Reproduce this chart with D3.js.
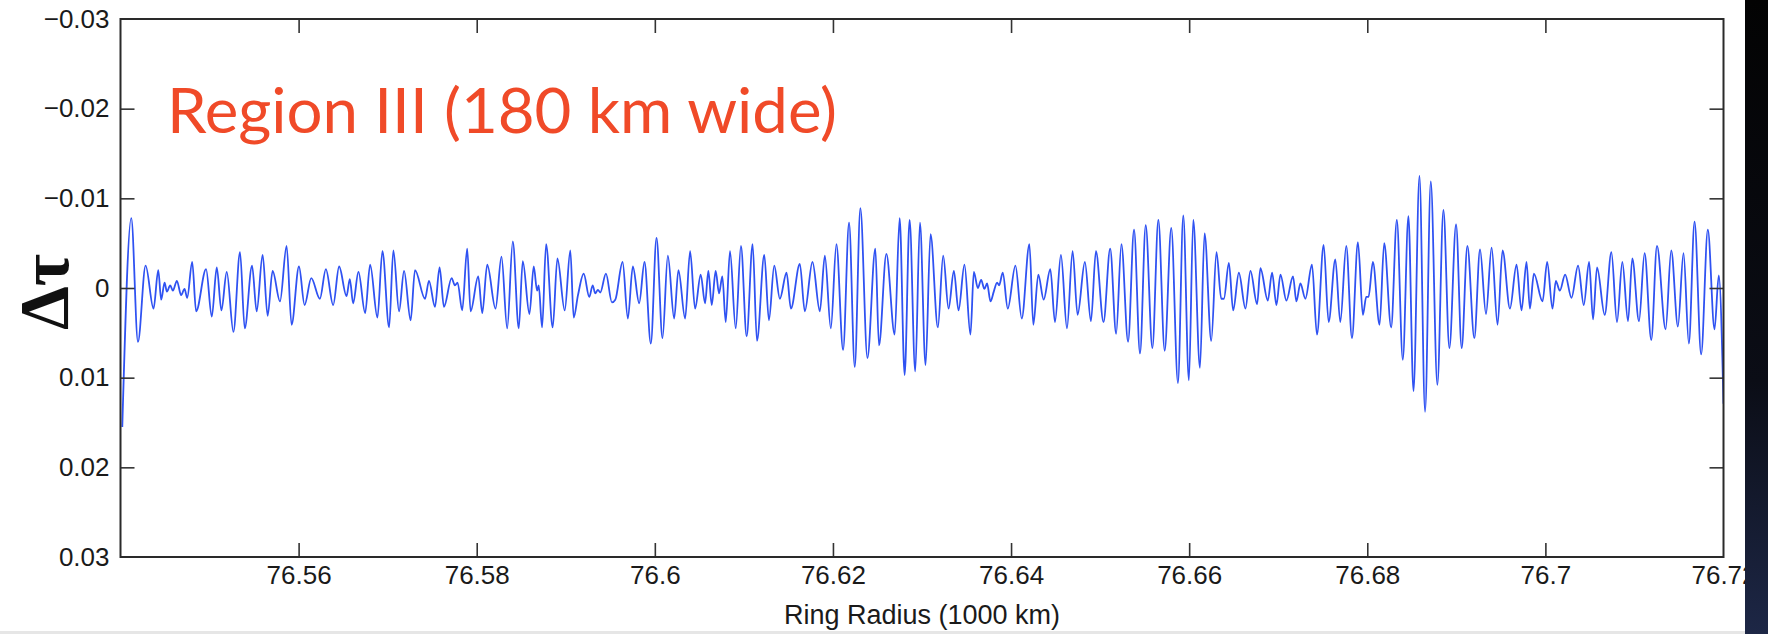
<!DOCTYPE html>
<html>
<head>
<meta charset="utf-8">
<script src="https://cdn.jsdelivr.net/npm/d3@7/dist/d3.min.js"></script>
<style>
  html, body { margin: 0; padding: 0; background: #ffffff; }
  svg { display: block; }
  .tick text { font-family: "Liberation Sans", Arial, sans-serif; font-size: 26px; fill: #1a1a1a; }
  .tick line { stroke: #333333; stroke-width: 1.6; }
</style>
</head>
<body>
<svg id="chart" width="1768" height="634"></svg>
<script>
// Optical depth residual across Region III, sampled at its crests and troughs
// [ring radius (1000 km), delta tau]
const tauProfile = [
  [76.5402, 0.0155], [76.54121, -0.0078], [76.54196, 0.0060], [76.54282, -0.0025],
  [76.54371, 0.0023], [76.54424, -0.0020], [76.54457, 0.0013], [76.54495, -0.0006],
  [76.54521, 0.0004], [76.54558, -0.0003], [76.54588, 0.0003], [76.54633, -0.0008],
  [76.54681, 0.0008], [76.54719, 0.0001], [76.54749, 0.0011], [76.54805, -0.0029],
  [76.54849, 0.0026], [76.54961, -0.0021], [76.55025, 0.0032], [76.55081, -0.0023],
  [76.55133, 0.0025], [76.55193, -0.0018], [76.55268, 0.0049], [76.55342, -0.0040],
  [76.55395, 0.0045], [76.55477, -0.0025], [76.55529, 0.0026], [76.55596, -0.0037],
  [76.55652, 0.0031], [76.55708, -0.0019], [76.55791, 0.0015], [76.55865, -0.0047],
  [76.55921, 0.0041], [76.56004, -0.0024], [76.56067, 0.0019], [76.56142, -0.0011],
  [76.56239, 0.0012], [76.56306, -0.0021], [76.56388, 0.0019], [76.56455, -0.0024],
  [76.56538, 0.0009], [76.56575, -0.0010], [76.56612, 0.0017], [76.56672, -0.0018],
  [76.56747, 0.0028], [76.56803, -0.0026], [76.56885, 0.0033], [76.56941, -0.0041],
  [76.57016, 0.0044], [76.57064, -0.0042], [76.57128, 0.0026], [76.57184, -0.0019],
  [76.57258, 0.0036], [76.57307, -0.0020], [76.57419, 0.0012], [76.57464, -0.0008],
  [76.57531, 0.0021], [76.57583, -0.0023], [76.57632, 0.0021], [76.57718, -0.0011],
  [76.57755, -0.0003], [76.57785, -0.0006], [76.57837, 0.0025], [76.57893, -0.0044],
  [76.57931, 0.0026], [76.58017, -0.0013], [76.58062, 0.0028], [76.58118, -0.0026],
  [76.58211, 0.0023], [76.58278, -0.0035], [76.58342, 0.0045], [76.58405, -0.0052],
  [76.58472, 0.0045], [76.58517, -0.0030], [76.58592, 0.0029], [76.58640, -0.0024],
  [76.58678, 0.0003], [76.58696, -0.0003], [76.58734, 0.0044], [76.58779, -0.0049],
  [76.58853, 0.0044], [76.58906, -0.0033], [76.58988, 0.0025], [76.59051, -0.0042],
  [76.59089, 0.0033], [76.59137, 0.0008], [76.59201, -0.0016], [76.59264, 0.0010],
  [76.59302, -0.0003], [76.59331, 0.0006], [76.59361, 0.0002], [76.59387, 0.0005],
  [76.59451, -0.0016], [76.59518, 0.0016], [76.59556, 0.0013], [76.59638, -0.0029],
  [76.59697, 0.0034], [76.59753, -0.0024], [76.59824, 0.0017], [76.59884, -0.0029],
  [76.59955, 0.0062], [76.60019, -0.0056], [76.60086, 0.0056], [76.60146, -0.0036],
  [76.60217, 0.0034], [76.60265, -0.0020], [76.60340, 0.0034], [76.60396, -0.0041],
  [76.60452, 0.0023], [76.60515, -0.0015], [76.60564, 0.0017], [76.60601, -0.0019],
  [76.60639, 0.0019], [76.60683, -0.0019], [76.60721, 0.0006], [76.60758, -0.0013],
  [76.60796, 0.0038], [76.60844, -0.0041], [76.60908, 0.0045], [76.60967, -0.0047],
  [76.61031, 0.0054], [76.61098, -0.0049], [76.61147, 0.0059], [76.61229, -0.0037],
  [76.61281, 0.0036], [76.61341, -0.0025], [76.61404, 0.0012], [76.61479, -0.0017],
  [76.61528, 0.0023], [76.61628, -0.0027], [76.61684, 0.0026], [76.61770, -0.0029],
  [76.61853, 0.0026], [76.61909, -0.0036], [76.61976, 0.0045], [76.62039, -0.0049],
  [76.62114, 0.0069], [76.62181, -0.0073], [76.62245, 0.0088], [76.62308, -0.0089],
  [76.62387, 0.0078], [76.62476, -0.0044], [76.62517, 0.0064], [76.62600, -0.0038],
  [76.62693, 0.0052], [76.62749, -0.0078], [76.62805, 0.0097], [76.62861, -0.0076],
  [76.62924, 0.0093], [76.62977, -0.0073], [76.63040, 0.0086], [76.63096, -0.0060],
  [76.63178, 0.0044], [76.63238, -0.0036], [76.63298, 0.0023], [76.63358, -0.0019],
  [76.63410, 0.0025], [76.63477, -0.0026], [76.63544, 0.0052], [76.63582, -0.0018],
  [76.63627, 0.0000], [76.63664, -0.0009], [76.63701, 0.0001], [76.63731, -0.0005],
  [76.63769, 0.0015], [76.63806, 0.0004], [76.63843, -0.0006], [76.63866, -0.0003],
  [76.63907, -0.0017], [76.63963, 0.0023], [76.64049, -0.0025], [76.64120, 0.0034],
  [76.64206, -0.0049], [76.64250, 0.0041], [76.64306, -0.0015], [76.64366, 0.0013],
  [76.64441, -0.0021], [76.64493, 0.0038], [76.64560, -0.0037], [76.64628, 0.0045],
  [76.64691, -0.0041], [76.64747, 0.0030], [76.64829, -0.0029], [76.64897, 0.0037],
  [76.64953, -0.0041], [76.65038, 0.0038], [76.65113, -0.0044], [76.65180, 0.0051],
  [76.65239, -0.0049], [76.65314, 0.0060], [76.65381, -0.0065], [76.65448, 0.0073],
  [76.65512, -0.0070], [76.65587, 0.0067], [76.65654, -0.0076], [76.65725, 0.0070],
  [76.65799, -0.0067], [76.65874, 0.0106], [76.65934, -0.0081], [76.65997, 0.0103],
  [76.66046, -0.0076], [76.66121, 0.0089], [76.66173, -0.0061], [76.66248, 0.0059],
  [76.66307, -0.0040], [76.66360, 0.0012], [76.66390, 0.0012], [76.66446, -0.0028],
  [76.66494, 0.0025], [76.66558, -0.0017], [76.66632, 0.0023], [76.66688, -0.0019],
  [76.66763, 0.0018], [76.66800, -0.0022], [76.66883, 0.0014], [76.66931, -0.0017],
  [76.66980, 0.0019], [76.67025, -0.0015], [76.67092, 0.0014], [76.67166, -0.0013],
  [76.67204, 0.0015], [76.67249, -0.0005], [76.67305, 0.0012], [76.67379, -0.0026],
  [76.67435, 0.0052], [76.67510, -0.0048], [76.67566, 0.0038], [76.67641, -0.0032],
  [76.67697, 0.0038], [76.67764, -0.0047], [76.67828, 0.0056], [76.67895, -0.0051],
  [76.67951, 0.0030], [76.67988, 0.0010], [76.68014, 0.0010], [76.68063, -0.0029],
  [76.68138, 0.0041], [76.68190, -0.0050], [76.68268, 0.0044], [76.68332, -0.0076],
  [76.68399, 0.0080], [76.68462, -0.0080], [76.68519, 0.0115], [76.68586, -0.0125],
  [76.68649, 0.0138], [76.68713, -0.0119], [76.68787, 0.0108], [76.68855, -0.0087],
  [76.68922, 0.0067], [76.68997, -0.0071], [76.69060, 0.0067], [76.69124, -0.0047],
  [76.69202, 0.0056], [76.69266, -0.0043], [76.69333, 0.0029], [76.69396, -0.0045],
  [76.69463, 0.0041], [76.69519, -0.0042], [76.69602, 0.0023], [76.69676, -0.0026],
  [76.69732, 0.0025], [76.69788, -0.0029], [76.69826, 0.0023], [76.69871, -0.0016],
  [76.69968, 0.0015], [76.70020, -0.0029], [76.70080, 0.0023], [76.70117, -0.0008],
  [76.70162, 0.0003], [76.70222, -0.0015], [76.70293, 0.0011], [76.70367, -0.0025],
  [76.70431, 0.0019], [76.70491, -0.0029], [76.70535, 0.0035], [76.70580, -0.0023],
  [76.70666, 0.0030], [76.70741, -0.0040], [76.70804, 0.0038], [76.70864, -0.0029],
  [76.70928, 0.0037], [76.70976, -0.0033], [76.71051, 0.0037], [76.71114, -0.0039],
  [76.71189, 0.0058], [76.71253, -0.0047], [76.71350, 0.0046], [76.71413, -0.0042],
  [76.71488, 0.0043], [76.71551, -0.0039], [76.71611, 0.0062], [76.71675, -0.0074],
  [76.71749, 0.0074], [76.71824, -0.0065], [76.71899, 0.0046], [76.71947, -0.0014],
  [76.72, 0.0129]
];

const xDomain = [76.54, 76.72];
const yDomain = [-0.03, 0.03];
const xTicks = [76.56, 76.58, 76.6, 76.62, 76.64, 76.66, 76.68, 76.7, 76.72];
const xTickLabels = ["76.56", "76.58", "76.6", "76.62", "76.64", "76.66", "76.68", "76.7", "76.72"];
const yTicks = [-0.03, -0.02, -0.01, 0, 0.01, 0.02, 0.03];
const yTickLabels = ["\u22120.03", "\u22120.02", "\u22120.01", "0", "0.01", "0.02", "0.03"];

const titleText = "Region III (180 km wide)";
const xAxisTitle = "Ring Radius (1000 km)";
const yAxisTitle = "\u0394\u03c4";

const svg = d3.select("#chart");
const W = 1768, H = 634;
const box = { left: 120.5, right: 1723.5, top: 19, bottom: 557 };

svg.append("rect").attr("width", W).attr("height", H).attr("fill", "#ffffff");

const x = d3.scaleLinear().domain(xDomain).range([box.left, box.right]);
// Delta tau grows downward: negative values sit at the top
const y = d3.scaleLinear().domain(yDomain).range([box.top, box.bottom]);

const tick = 14;

// Profile trace, clipped to the axes box
svg.append("clipPath").attr("id", "plotClip")
  .append("rect")
  .attr("x", box.left).attr("y", box.top)
  .attr("width", box.right - box.left).attr("height", box.bottom - box.top);

const line = d3.line()
  .x(d => x(d[0]))
  .y(d => y(d[1]))
  .curve(d3.curveMonotoneX);

svg.append("path")
  .datum(tauProfile)
  .attr("clip-path", "url(#plotClip)")
  .attr("d", line)
  .attr("fill", "none")
  .attr("stroke", "#2f52f2")
  .attr("stroke-width", 1.8)
  .attr("stroke-linejoin", "round");

// Axes with inward ticks on all four sides
const gLeft = svg.append("g")
  .attr("transform", `translate(${box.left},0)`)
  .call(d3.axisLeft(y).tickValues(yTicks).tickSize(-tick).tickSizeOuter(0)
    .tickPadding(11).tickFormat((d, i) => yTickLabels[i]));
const gRight = svg.append("g")
  .attr("transform", `translate(${box.right},0)`)
  .call(d3.axisRight(y).tickValues(yTicks.slice(1, -1)).tickSize(-tick).tickSizeOuter(0)
    .tickFormat(() => ""));
const gBottom = svg.append("g")
  .attr("transform", `translate(0,${box.bottom})`)
  .call(d3.axisBottom(x).tickValues(xTicks).tickSize(-tick).tickSizeOuter(0)
    .tickPadding(9).tickFormat((d, i) => xTickLabels[i]));
const gTop = svg.append("g")
  .attr("transform", `translate(0,${box.top})`)
  .call(d3.axisTop(x).tickValues(xTicks.slice(0, -1)).tickSize(-tick).tickSizeOuter(0)
    .tickFormat(() => ""));

[gLeft, gRight, gBottom, gTop].forEach(g => g.select(".domain").remove());
gLeft.selectAll(".tick").filter(d => d === yDomain[0] || d === yDomain[1]).select("line").remove();
gBottom.selectAll(".tick").filter(d => d === xDomain[1]).select("line").remove();

svg.append("rect")
  .attr("x", box.left).attr("y", box.top)
  .attr("width", box.right - box.left).attr("height", box.bottom - box.top)
  .attr("fill", "none").attr("stroke", "#2a2a2a").attr("stroke-width", 2);

// Axis titles
svg.append("text")
  .attr("x", (box.left + box.right) / 2).attr("y", 624)
  .attr("text-anchor", "middle")
  .attr("font-family", "Liberation Sans, Arial, sans-serif")
  .attr("font-size", 27).attr("fill", "#1a1a1a")
  .text(xAxisTitle);

svg.append("text")
  .attr("transform", "translate(68,292) rotate(-90)")
  .attr("text-anchor", "middle")
  .attr("font-family", "Liberation Serif, Times New Roman, serif")
  .attr("font-weight", "bold")
  .attr("font-size", 70).attr("fill", "#111111")
  .text(yAxisTitle);

// Region caption
svg.append("text")
  .attr("x", 167).attr("y", 133)
  .attr("font-family", "Lato, Open Sans, sans-serif")
  .attr("font-size", 61).attr("fill", "#f04a28")
  .attr("textLength", 670).attr("lengthAdjust", "spacingAndGlyphs")
  .text(titleText);

// Dark slide margin on the right and thin light strip at the bottom
const defs = svg.append("defs");
const grad = defs.append("linearGradient").attr("id", "edgeShade")
  .attr("x1", 0).attr("y1", 0).attr("x2", 0).attr("y2", 1);
grad.append("stop").attr("offset", "0%").attr("stop-color", "#030303");
grad.append("stop").attr("offset", "60%").attr("stop-color", "#0b0d16");
grad.append("stop").attr("offset", "100%").attr("stop-color", "#1d2746");
svg.append("rect").attr("x", 1745).attr("y", 0).attr("width", W - 1745).attr("height", H)
  .attr("fill", "url(#edgeShade)");
svg.append("rect").attr("x", 0).attr("y", 631).attr("width", 1745).attr("height", 3)
  .attr("fill", "#e6e6e6");
</script>
</body>
</html>
